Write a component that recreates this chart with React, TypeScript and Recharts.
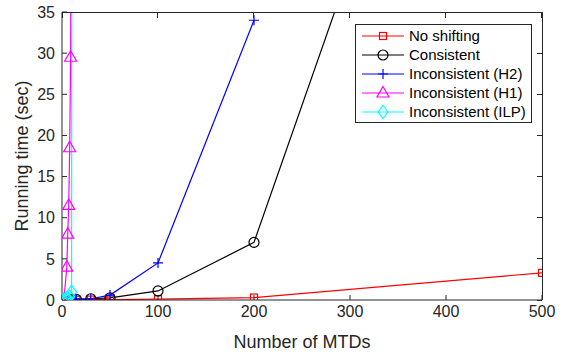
import { LineChart, Line, XAxis, YAxis, Legend } from "recharts";

const AXIS = "#262626";
const FONT = "'Liberation Sans', Arial, sans-serif";

// x = number of MTDs, y = running time in seconds
const noShiftX = [10, 15, 30, 50, 100, 200, 500];
const noShiftY = [0.02, 0.03, 0.05, 0.05, 0.1, 0.3, 3.3];

const consistentX = [10, 15, 30, 50, 100, 200, 500];
const consistentY = [0.05, 0.08, 0.15, 0.25, 1.1, 7, 107];

const h2X = [10, 15, 30, 50, 100, 200];
const h2Y = [0.05, 0.1, 0.15, 0.6, 4.5, 34];

const h1X = [2, 5, 6, 7, 8, 9, 10];
const h1Y = [0.05, 4, 8, 11.5, 18.5, 29.5, 80];

const ilpX = [2, 4, 6, 8, 10, 11];
const ilpY = [0.05, 0.1, 0.2, 0.4, 1.0, 200];

const xTicks = [0, 100, 200, 300, 400, 500];
const yTicks = [0, 5, 10, 15, 20, 25, 30, 35];

const toPoints = (xs: number[], ys: number[]) => xs.map((x, i) => ({ x, y: ys[i] }));

type Shape = "square" | "circle" | "plus" | "triangle" | "diamond";

const series: { name: string; color: string; shape: Shape; data: { x: number; y: number }[] }[] = [
  { name: "No shifting", color: "#ff0000", shape: "square", data: toPoints(noShiftX, noShiftY) },
  { name: "Consistent", color: "#000000", shape: "circle", data: toPoints(consistentX, consistentY) },
  { name: "Inconsistent (H2)", color: "#0000ff", shape: "plus", data: toPoints(h2X, h2Y) },
  { name: "Inconsistent (H1)", color: "#ff00ff", shape: "triangle", data: toPoints(h1X, h1Y) },
  { name: "Inconsistent (ILP)", color: "#00ffff", shape: "diamond", data: toPoints(ilpX, ilpY) },
];

// plot box (matches chart margins + axis sizes below)
const PLOT = { left: 62, top: 12, width: 480, height: 288 };

function Marker({ cx, cy, shape, color }: { cx: number; cy: number; shape: Shape; color: string }) {
  if (cx == null || cy == null || isNaN(cx) || isNaN(cy)) return null;
  const common = { fill: "none", stroke: color, strokeWidth: 1.2 };
  switch (shape) {
    case "square":
      return <rect x={cx - 3.5} y={cy - 3.5} width={7} height={7} {...common} />;
    case "circle":
      return <circle cx={cx} cy={cy} r={5} {...common} />;
    case "plus":
      return <path d={`M${cx - 5},${cy}H${cx + 5}M${cx},${cy - 5}V${cy + 5}`} {...common} />;
    case "triangle":
      return <path d={`M${cx},${cy - 6.5}L${cx + 6},${cy + 4}L${cx - 6},${cy + 4}Z`} {...common} />;
    default:
      return <path d={`M${cx},${cy - 6.5}L${cx + 5},${cy}L${cx},${cy + 6.5}L${cx - 5},${cy}Z`} {...common} />;
  }
}

function LegendBox() {
  return (
    <div
      style={{
        border: `1px solid ${AXIS}`,
        background: "#fff",
        padding: "1px 6px 1px 6px",
        fontFamily: FONT,
        fontSize: 15,
        color: "#000",
        width: 163,
        whiteSpace: "nowrap",
      }}
    >
      {series.map((s) => (
        <div key={s.name} style={{ display: "flex", alignItems: "center", height: 19 }}>
          <svg width={42} height={16} style={{ marginRight: 5, flexShrink: 0 }}>
            <line x1={0} x2={42} y1={8} y2={8} stroke={s.color} strokeWidth={1.2} />
            <Marker cx={21} cy={8} shape={s.shape} color={s.color} />
          </svg>
          <span>{s.name}</span>
        </div>
      ))}
    </div>
  );
}

// top and right edges of the box, with inward ticks (plain html so it sits above the svg)
function BoxEdges() {
  const { left, top, width, height } = PLOT;
  return (
    <div
      style={{
        position: "absolute",
        left,
        top: top - 0.5,
        width: width + 0.5,
        height: height + 0.5,
        borderTop: `1px solid ${AXIS}`,
        borderRight: `1px solid ${AXIS}`,
        boxSizing: "border-box",
        pointerEvents: "none",
        zIndex: 5,
      }}
    >
      {xTicks.map((t) => (
        <div
          key={`tx${t}`}
          style={{ position: "absolute", left: `${(t / 500) * 100}%`, top: 0, width: 1, height: 5, background: AXIS, marginLeft: -0.5 }}
        />
      ))}
      {yTicks.map((t) => (
        <div
          key={`ty${t}`}
          style={{ position: "absolute", right: 0, top: `${100 - (t / 35) * 100}%`, width: 5, height: 1, background: AXIS, marginTop: -0.5 }}
        />
      ))}
    </div>
  );
}

export default function App() {
  return (
    <div style={{ position: "absolute", left: 0, top: 0, width: 563, height: 358, background: "#fff" }}>
      <LineChart width={563} height={358} margin={{ top: 12, right: 21, bottom: 0, left: 0 }}>
        <XAxis
          dataKey="x"
          type="number"
          domain={[0, 500]}
          ticks={xTicks}
          allowDataOverflow
          height={58}
          stroke={AXIS}
          tickSize={-5}
          tickMargin={11}
          tick={{ fontSize: 16, fontFamily: FONT, fill: AXIS }}
          label={{ value: "Number of MTDs", position: "center", dy: 13, fontSize: 18, fontFamily: FONT, fill: AXIS }}
        />
        <YAxis
          dataKey="y"
          type="number"
          domain={[0, 35]}
          ticks={yTicks}
          allowDataOverflow
          width={62}
          stroke={AXIS}
          tickSize={-5}
          tickMargin={12}
          tick={{ fontSize: 16, fontFamily: FONT, fill: AXIS }}
          label={{ value: "Running time (sec)", angle: -90, position: "center", dx: -9, fontSize: 18, fontFamily: FONT, fill: AXIS }}
        />
        {series.map((s) => (
          <Line
            key={s.name}
            data={s.data}
            dataKey="y"
            name={s.name}
            stroke={s.color}
            strokeWidth={1.2}
            isAnimationActive={false}
            dot={(p: any) => (
              <Marker key={`${s.name}-${p.index}`} cx={p.cx} cy={p.cy} shape={s.shape} color={s.color} />
            )}
          />
        ))}
        <Legend
          layout="vertical"
          align="center"
          verticalAlign="middle"
          wrapperStyle={{ left: 355, top: 24, width: "auto" }}
          content={() => <LegendBox />}
        />
      </LineChart>
      <BoxEdges />
    </div>
  );
}
